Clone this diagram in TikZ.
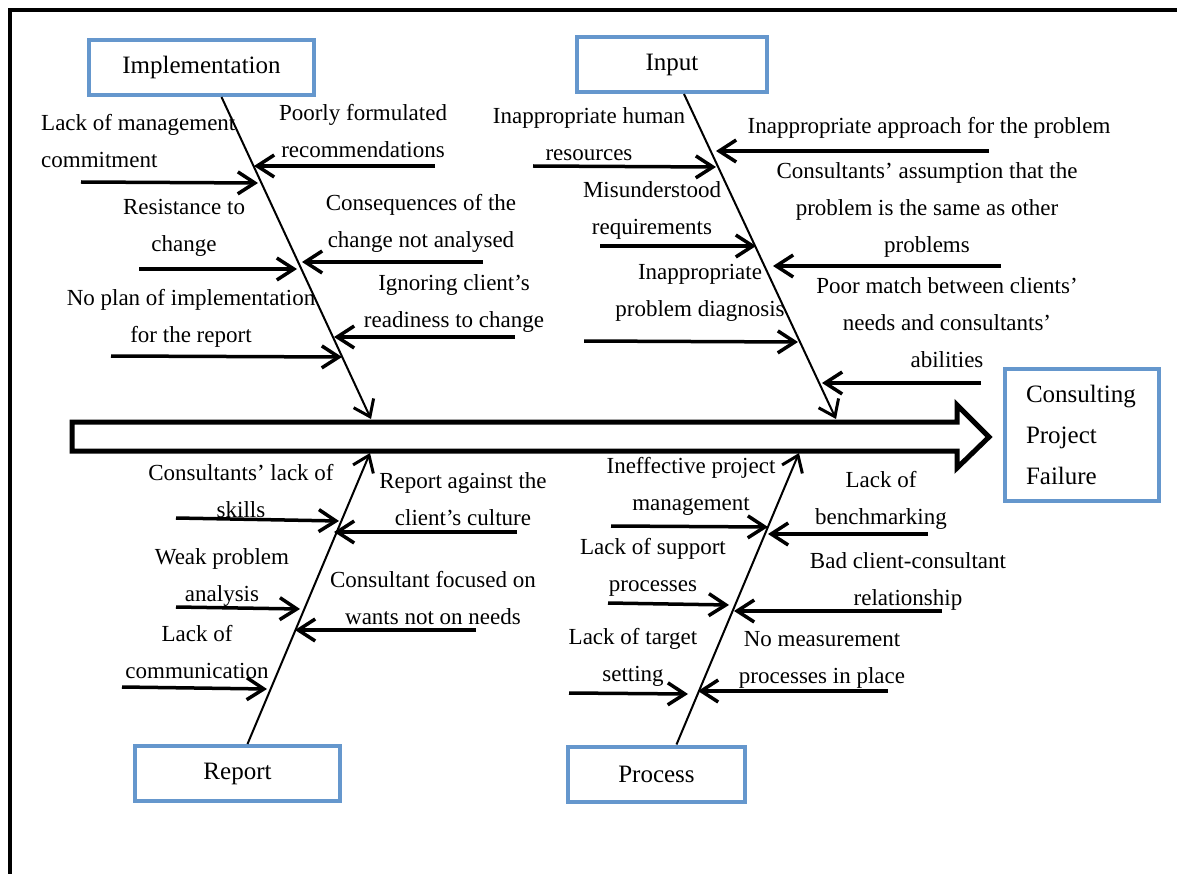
\documentclass[tikz,border=0pt]{standalone}
\usepackage{fontspec}
\setmainfont{Liberation Serif}
\usetikzlibrary{arrows.meta}
\definecolor{boxblue}{RGB}{101,151,205}

\begin{document}
\begin{tikzpicture}[x=1pt,y=-1pt,
	catbox/.style={draw=boxblue,line width=4pt,fill=white,minimum height=55pt,font=\fontsize{25}{30}\selectfont},
	bone/.style={line width=2pt,-{Straight Barb[length=15pt,width=22pt,line width=3pt]}},
	cause/.style={line width=3.5pt,-{Straight Barb[length=17pt,width=22pt]}},
	lbl/.style={inner sep=0pt,align=center,font=\fontsize{23}{37}\selectfont}]
		\useasboundingbox (0,0) rectangle (1177,874);
		% frame and spine
		\draw[line width=4pt] (10,874) -- (10,10) -- (1177,10);
		\draw[line width=5pt] (72,422) -- (957,422) -- (957,405) -- (989,437) -- (957,468) -- (957,451) -- (72,451) -- cycle;
		% categories
		\node[catbox,minimum width=225pt] (impl) at (201.5,67.5) {Implementation};
		\node[catbox,minimum width=190pt] (input) at (672,64.5) {Input};
		\node[catbox,minimum width=205pt] (report) at (237.5,773.5) {Report};
		\node[catbox,minimum width=177pt] (process) at (656.5,774) {Process};
		\node[catbox,minimum width=154pt,minimum height=132pt,text width=112pt,inner xsep=21pt,align=left,font=\fontsize{25}{41}\selectfont] (failure) at (1082,435) {Consulting\\Project\\Failure};
		% bones
		\coordinate (impl head) at (371,419);
		\coordinate (input head) at (836,419);
		\coordinate (report head) at (370,453);
		\coordinate (process head) at (799,453);
		\draw[bone] ([xshift=20pt]impl.south) -- (impl head);
		\draw[bone] ([xshift=12pt]input.south) -- (input head);
		\draw[bone] ([xshift=10pt]report.north) -- (report head);
		\draw[bone] ([xshift=20pt]process.north) -- (process head);
		% causes
		\foreach \n/\xa/\ya/\xb/\yb in {
			i1/81/182/258/183, i2/435/166/254/166, i3/139/269/297/269, i4/483/262/302/262, i5/111/356/342/357, i6/515/337/334/337,
			n1/533/166/716/167, n2/989/151/716/151, n3/600/246/756/246, n4/1001/266/773/266, n5/584/341/798/342, n6/981/383/822/383,
			r1/176/518/339/521, r2/517/532/334/532, r3/176/607/300/609, r4/476/630/295/630, r5/122/687/267/689,
			p1/611/526/768/527, p2/928/534/768/534, p3/608/603/729/605, p4/942/611/734/611, p5/569/693/688/694, p6/888/691/698/691}
		{
			\coordinate (\n s) at (\xa,\ya);
			\coordinate (\n e) at (\xb,\yb);
			\draw[cause] (\n s) -- (\n e);
		}
		% labels
		\node[lbl,anchor=west,align=left] (ti1) at (41,141) {Lack of management\\commitment};
		\node[lbl] (ti2) at (363,131) {Poorly formulated\\recommendations};
		\node[lbl] (ti3) at (184,228) {Resistance to\\change};
		\node[lbl] (ti4) at (421,223) {Consequences of the\\change not analysed};
		\node[lbl] (ti5) at (191,318) {No plan of implementation\\for the report};
		\node[lbl] (ti6) at (454,304) {Ignoring client's\\readiness to change};
		\node[lbl] (tn1) at (589,134) {Inappropriate human\\resources};
		\node[lbl] (tn2) at (929,128) {Inappropriate approach for the problem};
		\node[lbl] (tn3) at (652,210) {Misunderstood\\requirements};
		\node[lbl] (tn4) at (927,210) {Consultants' assumption that the\\problem is the same as other\\problems};
		\node[lbl] (tn5) at (700,293) {Inappropriate\\problem diagnosis};
		\node[lbl] (tn6) at (947,323) {Poor match between clients'\\needs and consultants'\\abilities};
		\node[lbl] (tr1) at (241,491) {Consultants' lack of\\skills};
		\node[lbl] (tr2) at (463,499) {Report against the\\client's culture};
		\node[lbl] (tr3) at (222,577) {Weak problem\\analysis};
		\node[lbl] (tr4) at (433,598) {Consultant focused on\\wants not on needs};
		\node[lbl] (tr5) at (197,652) {Lack of\\communication};
		\node[lbl] (tp1) at (691,486) {Ineffective project\\management};
		\node[lbl] (tp2) at (881,500) {Lack of\\benchmarking};
		\node[lbl] (tp3) at (653,567) {Lack of support\\processes};
		\node[lbl] (tp4) at (908,581) {Bad client-consultant\\relationship};
		\node[lbl] (tp5) at (633,657) {Lack of target\\setting};
		\node[lbl] (tp6) at (822,660) {No measurement\\processes in place};
\end{tikzpicture}
\end{document}
